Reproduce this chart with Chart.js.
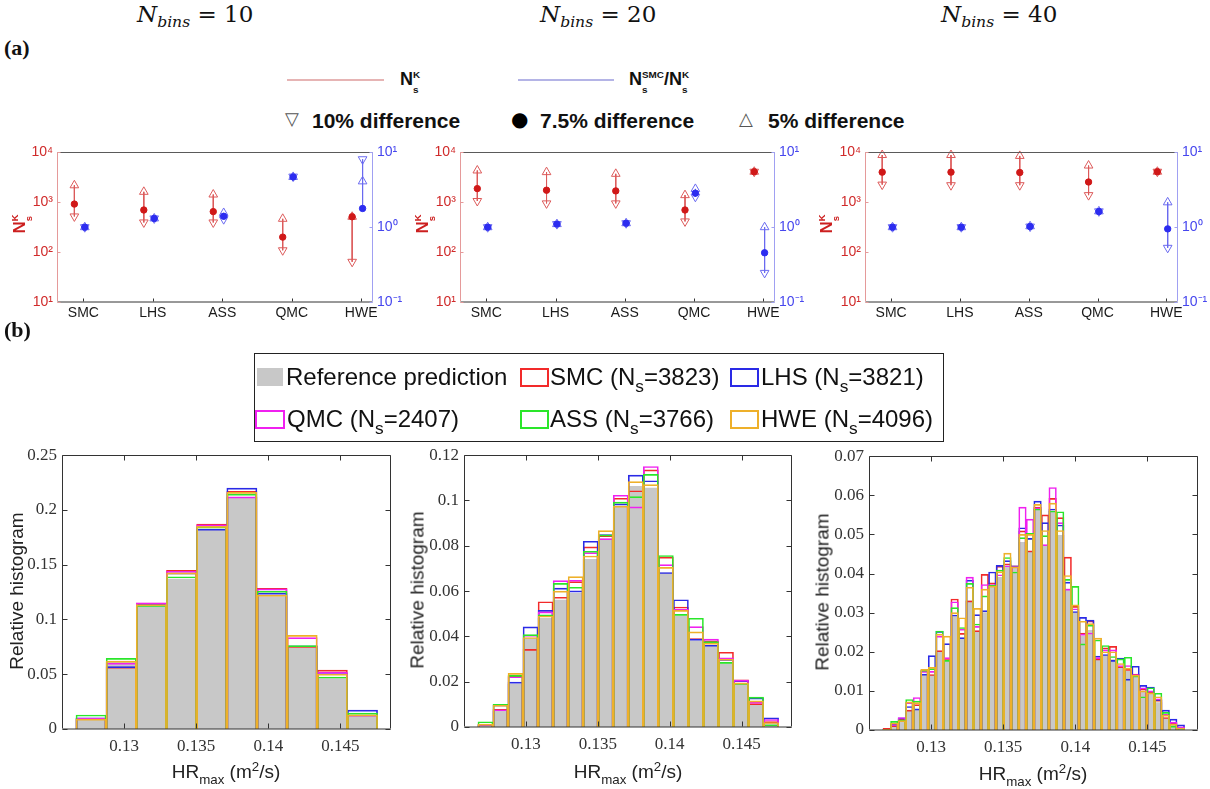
<!DOCTYPE html>
<html lang="en">
<head>
<meta charset="UTF-8">
<title>Sample sizes and relative histograms</title>
<script src="https://cdn.jsdelivr.net/npm/chart.js"></script>
<style>
  body { margin: 0; width: 1210px; height: 789px; overflow: hidden; background: #fff;
         position: relative; font-family: "Liberation Sans", Arial, sans-serif; color: #111; }
  canvas { position: absolute; }
  .t { position: absolute; white-space: nowrap; line-height: 1; }
  .title { font-family: "DejaVu Serif", serif; font-size: 23px; }
  .title sub { font-size: 0.68em; vertical-align: -0.3em; }
  .panel { font-family: "Liberation Serif", serif; font-weight: bold; font-size: 22px; }
  .lg { font-weight: bold; font-size: 18px; }
  .lg2 { font-weight: bold; font-size: 21px; }
  .sym { font-family: "DejaVu Sans", sans-serif; font-size: 18px; color: #555; }
  .ss { position: relative; display: inline-block; font-size: 0.55em; line-height: 1; vertical-align: 0.75em; }
  .ss > i { position: absolute; left: 0; top: 1.55em; font-style: normal; }
  .rot { transform: translate(-50%, -50%) rotate(-90deg); }
  .ylab { color: #cc1f1f; font-weight: bold; font-size: 17px; }
  .htitle { font-size: 19px; color: #222; }
  .htitle sub { font-size: 0.7em; vertical-align: -0.45em; }
  .htitle sup { font-size: 0.7em; vertical-align: 0.55em; }
  .line { position: absolute; height: 2px; }
  #legbox { position: absolute; left: 254px; top: 353px; width: 688px; height: 87px; border: 1.5px solid #222; }
  .sw { position: absolute; width: 25px; height: 15px; }
  .lt { position: absolute; white-space: nowrap; font-size: 24px; line-height: 24px; color: #111; }
  .lt sub { font-size: 0.72em; vertical-align: -0.42em; line-height: 0; }
</style>
</head>
<body>
<canvas id="top10" width="394" height="186" style="left:15px;top:140px"></canvas>
<canvas id="top20" width="393" height="186" style="left:418px;top:140px"></canvas>
<canvas id="top40" width="391" height="186" style="left:823px;top:140px"></canvas>
<canvas id="hist10" width="389" height="319" style="left:12px;top:440px"></canvas>
<canvas id="hist20" width="388" height="317" style="left:414px;top:440px"></canvas>
<canvas id="hist40" width="389" height="319" style="left:819px;top:441px"></canvas>

<div class="t title" style="left:137px;top:3px"><i>N<sub>bins</sub></i> = 10</div>
<div class="t title" style="left:540px;top:3px"><i>N<sub>bins</sub></i> = 20</div>
<div class="t title" style="left:941px;top:3px"><i>N<sub>bins</sub></i> = 40</div>
<div class="t panel" style="left:4px;top:37px">(a)</div>
<div class="t panel" style="left:4px;top:319px">(b)</div>

<div class="line" style="left:287px;top:79px;width:97px;background:#e6b4b4"></div>
<div class="t lg" style="left:400px;top:70px">N<span class="ss">K<i>s</i></span></div>
<div class="line" style="left:518px;top:79px;width:96px;background:#b4b4e6"></div>
<div class="t lg" style="left:629px;top:70px">N<span class="ss">SMC<i>s</i></span>/N<span class="ss">K<i>s</i></span></div>

<div class="t sym" style="left:285px;top:110px">▽</div>
<div class="t lg2" style="left:312px;top:110px">10% difference</div>
<div class="t sym" style="left:511px;top:109px;color:#000;font-size:20px">●</div>
<div class="t lg2" style="left:540px;top:110px">7.5% difference</div>
<div class="t sym" style="left:739px;top:110px">△</div>
<div class="t lg2" style="left:768px;top:110px">5% difference</div>

<div class="t ylab rot" style="left:19px;top:224px">N<span class="ss">K<i>s</i></span></div>
<div class="t ylab rot" style="left:422px;top:224px">N<span class="ss">K<i>s</i></span></div>
<div class="t ylab rot" style="left:826px;top:224px">N<span class="ss">K<i>s</i></span></div>

<div class="t htitle rot" style="left:16px;top:591px">Relative histogram</div>
<div class="t htitle rot" style="left:417px;top:590px">Relative histogram</div>
<div class="t htitle rot" style="left:822px;top:592px">Relative histogram</div>
<div class="t htitle" style="left:226px;top:773px;transform:translate(-50%,-50%)">HR<sub>max</sub> (m<sup>2</sup>/s)</div>
<div class="t htitle" style="left:628px;top:773px;transform:translate(-50%,-50%)">HR<sub>max</sub> (m<sup>2</sup>/s)</div>
<div class="t htitle" style="left:1033px;top:775px;transform:translate(-50%,-50%)">HR<sub>max</sub> (m<sup>2</sup>/s)</div>

<div id="legbox"></div>
<div class="sw" style="left:257px;top:368px;width:26px;height:18px;background:#c8c8c8"></div>
<div class="lt" style="left:286px;top:365px">Reference prediction</div>
<div class="sw" style="left:520px;top:368px;border:2px solid #f22a2a"></div>
<div class="lt" style="left:550px;top:365px">SMC (N<sub>s</sub>=3823)</div>
<div class="sw" style="left:730px;top:368px;border:2px solid #2a2ae6"></div>
<div class="lt" style="left:761px;top:365px">LHS (N<sub>s</sub>=3821)</div>
<div class="sw" style="left:255px;top:410px;width:26px;border:2px solid #f020f0"></div>
<div class="lt" style="left:287px;top:407px">QMC (N<sub>s</sub>=2407)</div>
<div class="sw" style="left:520px;top:410px;border:2px solid #2ae62a"></div>
<div class="lt" style="left:550px;top:407px">ASS (N<sub>s</sub>=3766)</div>
<div class="sw" style="left:730px;top:410px;border:2px solid #eeb02a"></div>
<div class="lt" style="left:761px;top:407px">HWE (N<sub>s</sub>=4096)</div>

<script>
  // ---- (a) sample sizes ----
  const methods = ['SMC', 'LHS', 'ASS', 'QMC', 'HWE'];
  const kTicks = [10, 100, 1000, 10000];
  const kTickLabels = ['10¹', '10²', '10³', '10⁴'];
  const ratioTicks = [0.1, 1, 10];
  const ratioTickLabels = ['10⁻¹', '10⁰', '10¹'];

  // N_s^K needed for 5%, 7.5% and 10% difference
  const nsK5_b10 = [2190, 1620, 1430, 466, 512];
  const nsK75_b10 = [920, 700, 650, 200, 512];
  const nsK10_b10 = [520, 394, 394, 109, 64];
  const nsK5_b20 = [4340, 4020, 3720, 1390, 4096];
  const nsK75_b20 = [1880, 1745, 1690, 700, 4096];
  const nsK10_b20 = [1060, 950, 950, 413, 4096];
  const nsK5_b40 = [8860, 8860, 8500, 5450, 4096];
  const nsK75_b40 = [4020, 4020, 3950, 2550, 4096];
  const nsK10_b40 = [2260, 2200, 2200, 1390, 4096];

  // N_s^SMC / N_s^K
  const ratio5_b10 = [1.0, 1.31, 1.55, 4.7, 4.1];
  const ratio75_b10 = [1.0, 1.31, 1.40, 4.7, 1.78];
  const ratio10_b10 = [1.0, 1.31, 1.28, 4.75, 8.1];
  const ratio5_b20 = [1.0, 1.1, 1.13, 3.25, 1.0];
  const ratio75_b20 = [1.0, 1.1, 1.13, 2.85, 0.455];
  const ratio10_b20 = [1.0, 1.1, 1.13, 2.55, 0.245];
  const ratio5_b40 = [1.0, 1.0, 1.03, 1.63, 2.15];
  const ratio75_b40 = [1.0, 1.0, 1.02, 1.62, 0.95];
  const ratio10_b40 = [1.0, 1.0, 1.02, 1.63, 0.53];

  // ---- (b) relative histograms ----
  const binRange = [0.12667, 0.14757];
  const xTicks = [0.13, 0.135, 0.14, 0.145];
  const xTickLabels = ['0.13', '0.135', '0.14', '0.145'];
  const yTicks10 = [0, 0.05, 0.1, 0.15, 0.2, 0.25];
  const yTickLabels10 = ['0', '0.05', '0.1', '0.15', '0.2', '0.25'];
  const yTicks20 = [0, 0.02, 0.04, 0.06, 0.08, 0.1, 0.12];
  const yTickLabels20 = ['0', '0.02', '0.04', '0.06', '0.08', '0.1', '0.12'];
  const yTicks40 = [0, 0.01, 0.02, 0.03, 0.04, 0.05, 0.06, 0.07];
  const yTickLabels40 = ['0', '0.01', '0.02', '0.03', '0.04', '0.05', '0.06', '0.07'];

  const ref10 = [0.0085, 0.0610, 0.1120, 0.1370, 0.1820, 0.2110, 0.1210, 0.0740, 0.0460, 0.0125];
  const smc10 = [0.0098, 0.0565, 0.1150, 0.1448, 0.1870, 0.2170, 0.1285, 0.0755, 0.0537, 0.0128];
  const lhs10 = [0.0103, 0.0570, 0.1140, 0.1425, 0.1825, 0.2200, 0.1240, 0.0760, 0.0505, 0.0172];
  const qmc10 = [0.0100, 0.0600, 0.1152, 0.1440, 0.1865, 0.2120, 0.1280, 0.0835, 0.0520, 0.0128];
  const ass10 = [0.0128, 0.0645, 0.1128, 0.1390, 0.1845, 0.2145, 0.1258, 0.0762, 0.0475, 0.0145];
  const hwe10 = [0.0090, 0.0620, 0.1135, 0.1425, 0.1850, 0.2160, 0.1222, 0.0855, 0.0500, 0.0130];

  const ref20 = [0.0010, 0.0070, 0.0190, 0.0390, 0.0480, 0.0560, 0.0590, 0.0740, 0.0830, 0.0970,
                 0.1063, 0.1055, 0.0680, 0.0490, 0.0380, 0.0360, 0.0280, 0.0190, 0.0100, 0.0015];
  const smc20 = [0.0012, 0.0078, 0.0225, 0.0343, 0.0553, 0.0573, 0.0642, 0.0795, 0.0845, 0.1010,
                 0.1043, 0.1135, 0.0750, 0.0530, 0.0390, 0.0380, 0.0330, 0.0208, 0.0103, 0.0024];
  const lhs20 = [0.0010, 0.0098, 0.0198, 0.0442, 0.0515, 0.0613, 0.0601, 0.0820, 0.0850, 0.0985,
                 0.1112, 0.1087, 0.0682, 0.0562, 0.0388, 0.0361, 0.0298, 0.0205, 0.0128, 0.0040];
  const qmc20 = [0.0011, 0.0076, 0.0222, 0.0405, 0.0508, 0.0646, 0.0648, 0.0770, 0.0832, 0.1023,
                 0.0972, 0.1150, 0.0717, 0.0520, 0.0443, 0.0388, 0.0305, 0.0207, 0.0110, 0.0033];
  const ass20 = [0.0023, 0.0100, 0.0228, 0.0408, 0.0495, 0.0634, 0.0617, 0.0776, 0.0848, 0.0993,
                 0.1017, 0.1115, 0.0757, 0.0497, 0.0480, 0.0377, 0.0285, 0.0192, 0.0132, 0.0010];
  const hwe20 = [0.0013, 0.0096, 0.0237, 0.0395, 0.0490, 0.0600, 0.0664, 0.0755, 0.0867, 0.0975,
                 0.1083, 0.1070, 0.0705, 0.0515, 0.0420, 0.0370, 0.0300, 0.0195, 0.0115, 0.0020];

  const ref40 = [0.0002, 0.0010, 0.0022, 0.0048, 0.0052, 0.0140, 0.0140, 0.0200, 0.0175, 0.0290,
                 0.0232, 0.0330, 0.0250, 0.0300, 0.0365, 0.0390, 0.0420, 0.0415, 0.0480, 0.0455,
                 0.0565, 0.0470, 0.0560, 0.0498, 0.0360, 0.0300, 0.0240, 0.0255, 0.0180, 0.0190,
                 0.0180, 0.0160, 0.0150, 0.0135, 0.0098, 0.0092, 0.0070, 0.0030, 0.0012, 0.0004];
  const smc40 = [0.0004, 0.0011, 0.0028, 0.0051, 0.0065, 0.0152, 0.0142, 0.0203, 0.0183, 0.0335,
                 0.0247, 0.0330, 0.0254, 0.0398, 0.0376, 0.0419, 0.0425, 0.0420, 0.0509, 0.0458,
                 0.0570, 0.0550, 0.0592, 0.0543, 0.0442, 0.0316, 0.0248, 0.0279, 0.0182, 0.0210,
                 0.0214, 0.0162, 0.0155, 0.0143, 0.0105, 0.0098, 0.0076, 0.0032, 0.0018, 0.0007];
  const lhs40 = [0.0002, 0.0015, 0.0031, 0.0060, 0.0054, 0.0143, 0.0190, 0.0252, 0.0221, 0.0294,
                 0.0236, 0.0383, 0.0295, 0.0305, 0.0404, 0.0421, 0.0433, 0.0420, 0.0517, 0.0490,
                 0.0585, 0.0530, 0.0565, 0.0524, 0.0378, 0.0303, 0.0288, 0.0281, 0.0189, 0.0193,
                 0.0178, 0.0184, 0.0130, 0.0163, 0.0114, 0.0110, 0.0078, 0.0051, 0.0028, 0.0013];
  const qmc40 = [0.0002, 0.0014, 0.0032, 0.0070, 0.0083, 0.0150, 0.0150, 0.0240, 0.0185, 0.0328,
                 0.0258, 0.0391, 0.0265, 0.0372, 0.0372, 0.0397, 0.0420, 0.0418, 0.0570, 0.0539,
                 0.0568, 0.0474, 0.0620, 0.0530, 0.0360, 0.0310, 0.0245, 0.0248, 0.0185, 0.0205,
                 0.0205, 0.0165, 0.0165, 0.0142, 0.0108, 0.0100, 0.0080, 0.0040, 0.0020, 0.0008];
  const ass40 = [0.0002, 0.0022, 0.0026, 0.0078, 0.0074, 0.0153, 0.0157, 0.0253, 0.0178, 0.0313,
                 0.0262, 0.0375, 0.0271, 0.0343, 0.0370, 0.0409, 0.0441, 0.0404, 0.0492, 0.0503,
                 0.0565, 0.0497, 0.0560, 0.0558, 0.0385, 0.0367, 0.0220, 0.0268, 0.0230, 0.0216,
                 0.0188, 0.0182, 0.0186, 0.0138, 0.0085, 0.0108, 0.0094, 0.0045, 0.0010, 0.0004];
  const hwe40 = [0.0002, 0.0018, 0.0024, 0.0072, 0.0070, 0.0155, 0.0160, 0.0245, 0.0240, 0.0300,
                 0.0287, 0.0365, 0.0311, 0.0360, 0.0368, 0.0405, 0.0452, 0.0417, 0.0500, 0.0500,
                 0.0577, 0.0510, 0.0580, 0.0510, 0.0395, 0.0320, 0.0278, 0.0272, 0.0235, 0.0200,
                 0.0200, 0.0170, 0.0158, 0.0140, 0.0100, 0.0095, 0.0085, 0.0038, 0.0015, 0.0005];

  Chart.defaults.font.family = '"Liberation Sans", Arial, sans-serif';
  Chart.defaults.animation = false;

  const RED = '#d01818', RED_LIGHT = '#dc5a5a', BLUE = '#2c2cf0', BLUE_LIGHT = '#6a6af0';

  // box + inward ticks, MATLAB style
  const framePlugin = {
    id: 'frame',
    afterDraw(chart, args, o) {
      const { ctx, chartArea: a } = chart;
      const L = Math.round(a.left) + 0.5, R = Math.round(a.right) - 0.5;
      const T = Math.round(a.top) + 0.5, B = Math.round(a.bottom) - 0.5;
      const seg = (c, x1, y1, x2, y2) => {
        ctx.strokeStyle = c; ctx.beginPath(); ctx.moveTo(x1, y1); ctx.lineTo(x2, y2); ctx.stroke();
      };
      ctx.save();
      ctx.lineWidth = 1;
      seg(o.top, L, T, R, T);
      seg(o.bottom, L, B + 0.5, R, B + 0.5);
      seg(o.left, L, T, L, B);
      seg(o.right, R, T, R, B);
      const xs = chart.scales.x;
      xs.ticks.forEach(t => {
        const x = Math.round(xs.getPixelForValue(t.value)) + 0.5;
        seg(o.bottom, x, B, x, B - o.tick);
        if (o.topTicks) seg(o.top, x, T, x, T + o.tick);
      });
      const yl = chart.scales[o.yLeft], yr = chart.scales[o.yRight];
      yl.ticks.forEach(t => {
        const y = Math.round(yl.getPixelForValue(t.value)) + 0.5;
        seg(o.left, L, y, L + o.tick, y);
      });
      yr.ticks.forEach(t => {
        const y = Math.round(yr.getPixelForValue(t.value)) + 0.5;
        seg(o.right, R, y, R - o.tick, y);
      });
      ctx.restore();
    }
  };

  function setTicks(values) {
    return s => { s.ticks = values.map(v => ({ value: v })); };
  }

  function markerSets(v5, v75, v10, off, axis, col, lineCol) {
    const pts = vals => vals.map((v, i) => ({ x: i + 1 + off, y: v }));
    const seg = [];
    methods.forEach((m, i) => {
      const hi = Math.max(v5[i], v75[i], v10[i]), lo = Math.min(v5[i], v75[i], v10[i]);
      seg.push({ x: i + 1 + off, y: hi }, { x: i + 1 + off, y: lo }, { x: i + 1 + off, y: null });
    });
    const base = { yAxisID: axis, clip: false };
    return [
      { ...base, data: seg, showLine: true, borderColor: lineCol, borderWidth: 1, pointRadius: 0, spanGaps: false, order: 10 },
      { ...base, data: pts(v5), pointStyle: 'triangle', rotation: 0, pointRadius: 5, borderColor: lineCol,
        backgroundColor: 'rgba(255,255,255,0)', pointBorderWidth: 1, order: 5 },
      { ...base, data: pts(v10), pointStyle: 'triangle', rotation: 180, pointRadius: 5, borderColor: lineCol,
        backgroundColor: 'rgba(255,255,255,0)', pointBorderWidth: 1, order: 4 },
      { ...base, data: pts(v75), pointStyle: 'circle', pointRadius: 3.2, borderColor: col, backgroundColor: col, order: 1 }
    ];
  }

  function makeTop(id, k5, k75, k10, r5, r75, r10) {
    new Chart(document.getElementById(id), {
      type: 'scatter',
      data: {
        datasets: [
          ...markerSets(k5, k75, k10, -0.13, 'y', RED, RED_LIGHT),
          ...markerSets(r5, r75, r10, 0.02, 'y1', BLUE, BLUE_LIGHT)
        ]
      },
      options: {
        responsive: false,
        layout: { padding: { top: 10 } },
        plugins: {
          legend: { display: false }, tooltip: { enabled: false },
          frame: { top: '#5a5a5a', bottom: '#333', left: '#e59a9a', right: '#a0a0f2', tick: 3, topTicks: false, yLeft: 'y', yRight: 'y1' }
        },
        scales: {
          x: {
            type: 'linear', min: 0.62, max: 5.17, offset: false,
            afterBuildTicks: setTicks([1, 2, 3, 4, 5]),
            afterFit: s => { s.height = 24; },
            grid: { display: false, drawTicks: false }, border: { display: false },
            ticks: { callback: (v, i) => methods[i], color: '#1a1a1a', font: { size: 14 }, padding: 3, autoSkip: false, maxRotation: 0 }
          },
          y: {
            type: 'logarithmic', position: 'left', min: 10, max: 10000,
            afterBuildTicks: setTicks(kTicks),
            afterFit: s => { s.width = 42; },
            grid: { display: false, drawTicks: false }, border: { display: false },
            ticks: { callback: (v, i) => kTickLabels[i], color: '#d02a2a', font: { size: 14 }, padding: 4, autoSkip: false }
          },
          y1: {
            type: 'logarithmic', position: 'right', min: 0.1, max: 10,
            afterBuildTicks: setTicks(ratioTicks),
            afterFit: s => { s.width = 36; },
            grid: { display: false, drawTicks: false }, border: { display: false },
            ticks: { callback: (v, i) => ratioTickLabels[i], color: '#4646ee', font: { size: 14 }, padding: 4, autoSkip: false }
          }
        }
      },
      plugins: [framePlugin]
    });
  }

  makeTop('top10', nsK5_b10, nsK75_b10, nsK10_b10, ratio5_b10, ratio75_b10, ratio10_b10);
  makeTop('top20', nsK5_b20, nsK75_b20, nsK10_b20, ratio5_b20, ratio75_b20, ratio10_b20);
  makeTop('top40', nsK5_b40, nsK75_b40, nsK10_b40, ratio5_b40, ratio75_b40, ratio10_b40);

  function binCenters(n) {
    const w = (binRange[1] - binRange[0]) / n;
    return Array.from({ length: n }, (_, i) => binRange[0] + (i + 0.5) * w);
  }

  function makeHist(id, series, yMax, yTicks, yLabels) {
    const n = series[0].values.length;
    const centers = binCenters(n);
    const datasets = series.map((s, k) => ({
      data: s.values.map((v, i) => ({ x: centers[i], y: v })),
      backgroundColor: s.fill,
      borderColor: s.color,
      borderWidth: s.fill === 'transparent' ? 1 : 0,
      grouped: false,
      barPercentage: 1,
      categoryPercentage: 1,
      order: series.length - k
    }));
    new Chart(document.getElementById(id), {
      type: 'bar',
      data: { datasets },
      options: {
        responsive: false,
        layout: { padding: { top: 12, right: 10 } },
        plugins: {
          legend: { display: false }, tooltip: { enabled: false },
          frame: { top: '#333', bottom: '#333', left: '#333', right: '#333', tick: 5, topTicks: true, yLeft: 'y', yRight: 'y' }
        },
        scales: {
          x: {
            type: 'linear', min: 0.1257, max: 0.1485, offset: false,
            afterBuildTicks: setTicks(xTicks),
            afterFit: s => { s.height = 30; },
            grid: { display: false, drawTicks: false }, border: { display: false },
            ticks: { callback: (v, i) => xTickLabels[i], color: '#333', font: { family: '"Liberation Serif", serif', size: 17 }, padding: 7, maxRotation: 0, autoSkip: false }
          },
          y: {
            min: 0, max: yMax,
            afterBuildTicks: setTicks(yTicks),
            afterFit: s => { s.width = 50; },
            grid: { display: false, drawTicks: false }, border: { display: false },
            ticks: { callback: (v, i) => yLabels[i], color: '#333', font: { family: '"Liberation Serif", serif', size: 17 }, padding: 5, autoSkip: false }
          }
        }
      },
      plugins: [framePlugin]
    });
  }

  const histStyle = (ref, smc, lhs, qmc, ass, hwe) => [
    { values: ref, fill: '#c8c8c8', color: '#c8c8c8' },
    { values: smc, fill: 'transparent', color: '#f22a2a' },
    { values: lhs, fill: 'transparent', color: '#2a2ae6' },
    { values: qmc, fill: 'transparent', color: '#f020f0' },
    { values: ass, fill: 'transparent', color: '#2ae62a' },
    { values: hwe, fill: 'transparent', color: '#eeb02a' }
  ];

  makeHist('hist10', histStyle(ref10, smc10, lhs10, qmc10, ass10, hwe10), 0.25, yTicks10, yTickLabels10);
  makeHist('hist20', histStyle(ref20, smc20, lhs20, qmc20, ass20, hwe20), 0.12, yTicks20, yTickLabels20);
  makeHist('hist40', histStyle(ref40, smc40, lhs40, qmc40, ass40, hwe40), 0.07, yTicks40, yTickLabels40);
</script>
</body>
</html>
